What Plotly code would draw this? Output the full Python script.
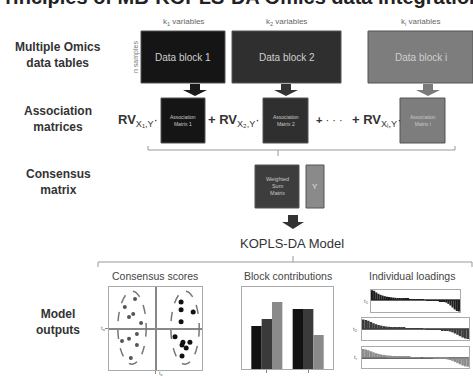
import plotly.graph_objects as go

W, H = 473, 376

# ---------------- text content ----------------
title_text = "Principles of MB-KOPLS-DA Omics data integration"
row_labels = ["Multiple Omics<br>data tables", "Association<br>matrices",
              "Consensus<br>matrix", "Model<br>outputs"]
block_names = ["Data block 1", "Data block 2", "Data block i"]
variable_labels = ["k<sub>1</sub> variables", "k<sub>2</sub> variables", "k<sub>i</sub> variables"]
assoc_names = ["Association<br>Matrix 1", "Association<br>Matrix 2", "Association<br>Matrix i"]
rv_terms = ["<b>RV</b><sub>X₁,Y</sub>·", "<b>+ RV</b><sub>X₂,Y</sub>·", "<b>+ RV</b><sub>Xᵢ,Y</sub>·"]
consensus_names = ["Weighted<br>Sum<br>Matrix", "Y"]
model_name = "KOPLS-DA Model"
output_titles = ["Consensus scores", "Block contributions", "Individual loadings"]

# ---------------- consensus scores ----------------
class1_t1 = [-0.44, -0.66, -0.48, -0.57, -0.31, -0.40, -0.72, -0.57, -0.40, -0.53]
class1_t2 = [0.71, 0.52, 0.35, 0.28, 0.13, -0.13, -0.30, -0.25, -0.40, -0.71]
class2_t1 = [0.55, 0.55, 0.81, 0.55, 0.42, 0.59, 0.74, 0.57, 0.66, 0.57]
class2_t2 = [0.64, 0.45, 0.40, 0.16, -0.20, -0.33, -0.33, -0.40, -0.47, -0.66]

# ---------------- block contributions ----------------
contrib_classes = [0, 1]
contrib_block1 = [0.43, 0.60]
contrib_block2 = [0.50, 0.60]
contrib_blocki = [0.67, 0.34]

# ---------------- individual loadings (sorted) ----------------
loadings_1 = [0.98, 0.92, 0.75, 0.62, 0.52, 0.44, 0.38, 0.33, 0.30, 0.27, 0.24, 0.22,
              0.20, 0.18, 0.16, 0.15, 0.13, 0.12, 0.10, 0.09, 0.07, 0.06, 0.04, 0.03,
              0.01, 0.00, -0.02, -0.03, -0.05, -0.06, -0.08, -0.10, -0.12, -0.15,
              -0.19, -0.26, -0.38, -0.55, -0.75, -0.95, -1.10, -1.15]
loadings_2 = [0.95, 0.90, 0.82, 0.70, 0.58, 0.48, 0.40, 0.34, 0.29, 0.25, 0.22, 0.20,
              0.18, 0.16, 0.14, 0.13, 0.11, 0.10, 0.08, 0.07, 0.05, 0.04, 0.03, 0.01,
              0.00, -0.02, -0.03, -0.05, -0.06, -0.08, -0.10, -0.12, -0.15, -0.19,
              -0.25, -0.33, -0.45, -0.58, -0.72, -0.85, -0.95, -1.00]
loadings_3 = [0.85, 0.80, 0.72, 0.62, 0.52, 0.43, 0.36, 0.30, 0.26, 0.22, 0.19, 0.17,
              0.15, 0.13, 0.12, 0.10, 0.09, 0.08, 0.06, 0.05, 0.04, 0.03, 0.02, 0.00,
              -0.01, -0.02, -0.04, -0.05, -0.07, -0.08, -0.10, -0.12, -0.15, -0.19,
              -0.25, -0.33, -0.44, -0.56, -0.68, -0.80, -0.88, -0.92]

FONT = "Liberation Sans"


def dom_x(a, b):
    return [a / W, b / W]


def dom_y(top, bottom):
    return [1 - bottom / H, 1 - top / H]


shapes = []
annotations = []


def rect(x0, y0, x1, y1, fill, line="#555"):
    shapes.append(dict(type="rect", xref="x", yref="y", x0=x0, y0=y0, x1=x1, y1=y1,
                       fillcolor=fill, line=dict(color=line, width=1), layer="below"))


def text(x, y, s, size, color="#333", anchor="center", bold=False, angle=0, yanchor="middle"):
    annotations.append(dict(x=x, y=y, xref="x", yref="y", text=f"<b>{s}</b>" if bold else s,
                            showarrow=False, xanchor=anchor, yanchor=yanchor, textangle=angle,
                            font=dict(family=FONT, size=size, color=color)))


def down_arrow(cx, top, bottom, color, stem_w=10, head_w=24, head_h=6):
    p = (f"M {cx - stem_w / 2},{top} L {cx + stem_w / 2},{top} L {cx + stem_w / 2},{bottom - head_h} "
         f"L {cx + head_w / 2},{bottom - head_h} L {cx},{bottom} L {cx - head_w / 2},{bottom - head_h} "
         f"L {cx - stem_w / 2},{bottom - head_h} Z")
    shapes.append(dict(type="path", xref="x", yref="y", path=p, fillcolor=color,
                       line=dict(color=color, width=0)))


def line_path(p, color="#999", width=1):
    shapes.append(dict(type="path", xref="x", yref="y", path=p, line=dict(color=color, width=width)))


# title, running off the top edge of the page
text(W / 2, 10, title_text, 20, color="#222", bold=True, yanchor="bottom")

# row labels
for lbl, y in zip(row_labels, [55, 119, 182, 322]):
    text(58, y, lbl, 12, color="#333", bold=True)

# data blocks
block_pos = [(141, 225), (232, 341), (368, 473)]
block_fill = ["#151515", "#2f2f2f", "#7d7d7d"]
arrow_fill = ["#1a1a1a", "#333333", "#7a7a7a"]
for (x0, x1), name, vl, fill in zip(block_pos, block_names, variable_labels, block_fill):
    rect(x0, 31, x1, 83, fill)
    text((x0 + x1) / 2, 57, name, 10, color="#cfcfcf")
    text((x0 + x1) / 2, 22, vl, 8, color="#666")
text(136, 57, "n samples", 7, color="#777", angle=-90)

for cx, c in zip([195, 286, 428], arrow_fill):
    down_arrow(cx, 84, 96, c)

# association matrices
assoc_pos = [(161, 205), (263, 308), (400, 445)]
for (x0, x1), name, fill in zip(assoc_pos, assoc_names, block_fill):
    rect(x0, 98, x1, 143, fill)
    text((x0 + x1) / 2, 120, name, 5, color="#c8c8c8")

text(116, 120, rv_terms[0], 13, color="#333", anchor="left")
text(206, 120, rv_terms[1], 13, color="#333", anchor="left")
text(314, 120, "<b>+</b> · · ·", 11, color="#333", anchor="left")
text(350, 120, rv_terms[2], 13, color="#333", anchor="left")

line_path("M 148,146 L 148,150 L 455,150 L 455,146")
line_path("M 278,150 L 278,156")

# consensus matrix
rect(255, 165, 299, 208, "#3d3d3d")
text(277, 186, consensus_names[0], 5.5, color="#c8c8c8")
rect(306, 165, 324, 208, "#8a8a8a")
text(315, 186, consensus_names[1], 8, color="#e0e0e0")

down_arrow(293, 215, 229, "#333333", stem_w=10, head_w=22, head_h=7)
text(292, 243, model_name, 13, color="#333")

line_path("M 98,267 L 98,262 L 472,262 L 472,267")
line_path("M 293,262 L 293,256")

for x, t in zip([155, 288, 412], output_titles):
    text(x, 276, t, 10.5, color="#444")

# small axis labels for the output panels
text(160, 373, "t<sub>p</sub>", 5, color="#666")
text(103, 328, "t<sub>o</sub>", 6, color="#666")
text(366, 301, "t<sub>1</sub>", 6, color="#666")
text(355, 329, "t<sub>2</sub>", 6, color="#666")
text(355, 357, "t<sub>i</sub>", 6, color="#666")

fig = go.Figure()

# invisible anchor trace for the drawing canvas
fig.add_trace(go.Scatter(x=[0], y=[0], mode="markers", marker=dict(opacity=0),
                         hoverinfo="skip", showlegend=False, xaxis="x", yaxis="y"))

# consensus scores
fig.add_trace(go.Scatter(x=class1_t1, y=class1_t2, mode="markers",
                         marker=dict(size=4, color="#555"), showlegend=False,
                         xaxis="x2", yaxis="y2"))
fig.add_trace(go.Scatter(x=class2_t1, y=class2_t2, mode="markers",
                         marker=dict(size=5, color="#111"), showlegend=False,
                         xaxis="x2", yaxis="y2"))
for x0, x1 in [(-0.81, -0.20), (0.33, 0.94)]:
    shapes.append(dict(type="circle", xref="x2", yref="y2", x0=x0, x1=x1, y0=-0.86, y1=0.90,
                       line=dict(color="#777", width=1.5, dash="dash")))

# block contributions
for vals, color, off in zip([contrib_block1, contrib_block2, contrib_blocki],
                            ["#121212", "#3a3a3a", "#8a8a8a"], [-0.375, -0.125, 0.125]):
    fig.add_trace(go.Bar(x=contrib_classes, y=vals, width=0.25, offset=off,
                         marker=dict(color=color, line=dict(width=0)), showlegend=False,
                         xaxis="x3", yaxis="y3"))

# loadings
for vals, color, ax in zip([loadings_1, loadings_2, loadings_3],
                           ["#1e1e1e", "#3c3c3c", "#8c8c8c"], ["4", "5", "6"]):
    fig.add_trace(go.Bar(x=list(range(len(vals))), y=vals, width=1,
                         marker=dict(color=color, line=dict(width=0)), showlegend=False,
                         xaxis="x" + ax, yaxis="y" + ax))

frame = dict(showline=True, mirror=True, linecolor="#aaa", linewidth=1, showgrid=False,
             showticklabels=False, fixedrange=True)

n = len(loadings_1)
fig.update_layout(
    width=W, height=H, margin=dict(l=0, r=0, t=0, b=0),
    paper_bgcolor="white", plot_bgcolor="white",
    barmode="overlay",
    xaxis=dict(domain=[0, 1], range=[0, W], visible=False, fixedrange=True),
    yaxis=dict(domain=[0, 1], range=[H, 0], visible=False, fixedrange=True),
    xaxis2=dict(domain=dom_x(109, 202), range=[-1, 1], anchor="y2", zeroline=True,
                zerolinecolor="#888", tickvals=[0], ticks="outside", ticklen=3,
                tickcolor="#888", **frame),
    yaxis2=dict(domain=dom_y(287, 370), range=[-1, 1], anchor="x2", zeroline=True,
                zerolinecolor="#888", tickvals=[0], ticks="outside", ticklen=3,
                tickcolor="#888", **frame),
    xaxis3=dict(domain=dom_x(242, 333), range=[-0.6, 1.6], anchor="y3", zeroline=False,
                tickvals=[0, 1], ticks="outside", ticklen=3, tickcolor="#888", **frame),
    yaxis3=dict(domain=dom_y(287, 369), range=[0, 0.82], anchor="x3", zeroline=False,
                ticks="", **frame),
    xaxis4=dict(domain=dom_x(371, 460), range=[-0.5, n - 0.5], anchor="y4", zeroline=False, **frame),
    yaxis4=dict(domain=dom_y(290, 312), range=[-1.2, 1.0], anchor="x4", zeroline=True,
                zerolinecolor="#666", **frame),
    xaxis5=dict(domain=dom_x(362, 469), range=[-0.5, n - 0.5], anchor="y5", zeroline=False, **frame),
    yaxis5=dict(domain=dom_y(318, 340), range=[-1.1, 1.1], anchor="x5", zeroline=True,
                zerolinecolor="#666", **frame),
    xaxis6=dict(domain=dom_x(362, 469), range=[-0.5, n - 0.5], anchor="y6", zeroline=False, **frame),
    yaxis6=dict(domain=dom_y(347, 368), range=[-1.05, 1.05], anchor="x6", zeroline=True,
                zerolinecolor="#666", **frame),
    shapes=shapes,
    annotations=annotations,
)

fig.write_html("out.html")
